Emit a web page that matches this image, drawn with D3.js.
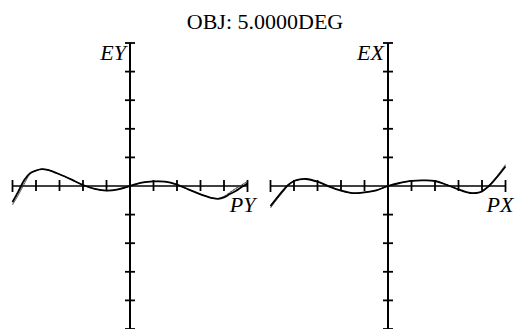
<!DOCTYPE html>
<html><head><meta charset="utf-8">
<script src="https://cdn.jsdelivr.net/npm/d3@7"></script>
<style>
html,body{margin:0;padding:0;background:#fff;overflow:hidden}
svg{display:block}
text{font-family:"Liberation Serif","Times New Roman",serif;fill:#000}
</style></head>
<body>
<script>
const title = "OBJ: 5.0000DEG";
const pupil = [-1,-0.95,-0.9,-0.85,-0.8,-0.75,-0.7,-0.6,-0.5,-0.4,-0.3,-0.2,-0.1,0,0.1,0.2,0.3,0.4,0.5,0.6,0.7,0.75,0.8,0.85,0.9,0.95,1];
// tangential fan (EY vs PY), three wavelengths
const ey1 = [-5.6,-1.9,2.1,4.5,5.4,5.9,5.6,4.1,2.3,0.35,-1.0,-1.6,-1.15,0,1.2,1.6,1.5,0.45,-1.25,-2.9,-4.2,-4.5,-4.0,-2.8,-1.75,-0.35,0.9];
const ey2 = [-6.6,-3.1,0.7,4.2,5.4,5.9,5.6,4.1,2.3,0.35,-1.0,-1.6,-1.15,0,1.2,1.6,1.5,0.45,-1.25,-2.9,-4.2,-4.4,-3.7,-2.3,-0.9,0.35,1.6];
const ey3 = [-6.1,-2.5,1.4,4.3,5.4,5.9,5.6,4.1,2.3,0.35,-1.0,-1.6,-1.15,0,1.2,1.6,1.5,0.45,-1.25,-2.9,-4.2,-4.3,-3.6,-2.2,-0.8,0.4,1.5];
// sagittal fan (EX vs PX), three wavelengths
const ex1 = [-7.0,-4.4,-1.9,0.35,1.75,2.3,2.45,1.5,-0.2,-1.6,-2.5,-2.2,-1.5,0,1.05,1.8,1.95,1.75,0.4,-1.2,-2.45,-2.45,-1.9,-0.35,1.8,4.2,6.8];
const ex2 = [-7.7,-4.9,-2.4,0.1,1.7,2.3,2.45,1.5,-0.2,-1.6,-2.5,-2.2,-1.5,0,1.05,1.8,1.95,1.75,0.4,-1.2,-2.45,-2.4,-1.7,-0.1,2.1,4.7,7.5];
const ex3 = [-7.4,-4.7,-2.2,0.2,1.7,2.3,2.45,1.5,-0.2,-1.6,-2.5,-2.2,-1.5,0,1.05,1.8,1.95,1.75,0.4,-1.2,-2.45,-2.4,-1.8,-0.2,2.0,4.5,7.2];
const xTicks = [-1,-0.8,-0.6,-0.4,-0.2,0,0.2,0.4,0.6,0.8,1];
const yTicks = [-50,-40,-30,-20,-10,0,10,20,30,40,50];
const panels = [
  {yLabel:"EY", xLabel:"PY", series:[ey1,ey2,ey3], range:[12.5,247.5]},
  {yLabel:"EX", xLabel:"PX", series:[ex1,ex2,ex3], range:[270.5,505.5]}
];

const W=515,H=329;
const svg = d3.select("body").append("svg").attr("width",W).attr("height",H);
svg.append("text").attr("x",265).attr("y",29).attr("text-anchor","middle")
  .style("font-size","22px").text(title);

const y = d3.scaleLinear().domain([-50,50]).range([329,43]);
const styles = [
  {w:1.8, c:"#000", dash:null},
  {w:0.8, c:"#333", dash:null},
  {w:0.8, c:"#666", dash:"2,1.5"}
];

panels.forEach(p=>{
  const x = d3.scaleLinear().domain([-1,1]).range(p.range);
  const g = svg.append("g");
  const x0 = x(0), y0 = y(0);
  // horizontal axis
  g.append("line").attr("x1",x(-1)).attr("x2",x(1)).attr("y1",y0).attr("y2",y0)
    .attr("stroke","#000").attr("stroke-width",1.6);
  g.selectAll(".xt").data(xTicks.filter(d=>d!==0)).join("line")
    .attr("x1",d=>x(d)).attr("x2",d=>x(d))
    .attr("y1",d=>y0-(Math.abs(d)===1?6:6)).attr("y2",d=>y0+(Math.abs(d)===1?6:5))
    .attr("stroke","#000").attr("stroke-width",1.8);
  // vertical axis
  g.append("line").attr("x1",x0).attr("x2",x0).attr("y1",y(50)).attr("y2",y(-50))
    .attr("stroke","#000").attr("stroke-width",2);
  g.selectAll(".yt").data(yTicks.filter(d=>d!==0)).join("line")
    .attr("x1",x0-5).attr("x2",x0+5)
    .attr("y1",d=>y(d)).attr("y2",d=>y(d))
    .attr("stroke","#000").attr("stroke-width",1.8);
  // labels
  g.append("text").attr("x",x0-4).attr("y",y(50)+17).attr("text-anchor","end")
    .style("font-size","22px").style("font-style","italic").text(p.yLabel);
  g.append("text").attr("x",x(1)+8).attr("y",y0+26).attr("text-anchor","end")
    .style("font-size","22px").style("font-style","italic").text(p.xLabel);
  // curves
  const line = d3.line().x((d,i)=>x(pupil[i])).y(d=>y(d)).curve(d3.curveCatmullRom);
  p.series.slice().reverse().forEach((s,ri)=>{
    const st = styles[p.series.length-1-ri];
    g.append("path").attr("d",line(s)).attr("fill","none")
      .attr("stroke",st.c).attr("stroke-width",st.w)
      .attr("stroke-dasharray",st.dash);
  });
});
</script>
</body></html>
